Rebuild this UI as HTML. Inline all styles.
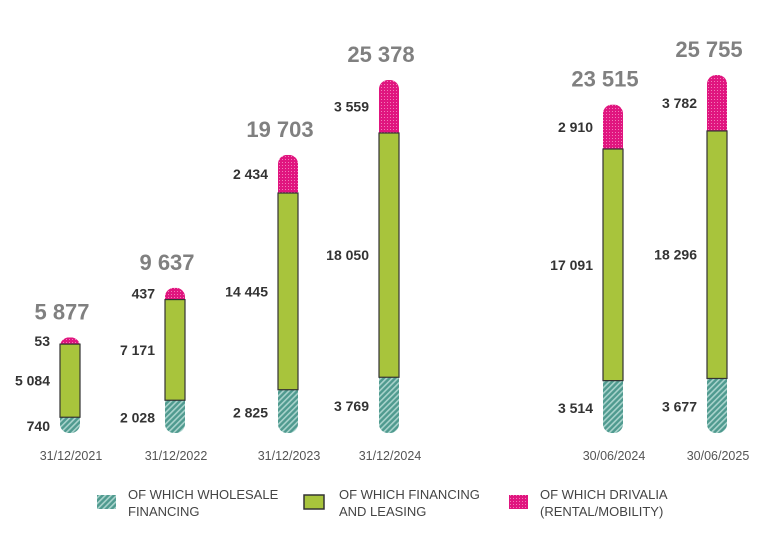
<!DOCTYPE html>
<html><head><meta charset="utf-8"><style>
body{margin:0;background:#fff;font-family:"Liberation Sans",sans-serif}
svg text{font-family:"Liberation Sans",sans-serif}
</style></head><body>
<svg width="778" height="540">
<defs>
<pattern id="hatch" width="4" height="4" patternUnits="userSpaceOnUse" patternTransform="rotate(45)"><rect width="4" height="4" fill="#4f9a8f"/><rect width="1.6" height="4" fill="#a9d3cc"/></pattern>
<pattern id="dots" width="3" height="3" patternUnits="userSpaceOnUse"><rect width="3" height="3" fill="#e0157f"/><rect width="1" height="1" fill="#f27ab8"/></pattern>
</defs>
<g id="chart"></g>
<g font-size="13" fill="#444">
<rect x="97" y="495" width="19" height="14" fill="url(#hatch)"/>
<text x="128" y="499">OF WHICH WHOLESALE</text><text x="128" y="516">FINANCING</text>
<rect x="304" y="495" width="20" height="14" fill="#a8c43c" stroke="#333" stroke-width="1.5"/>
<text x="339" y="499">OF WHICH FINANCING</text><text x="339" y="516">AND LEASING</text>
<rect x="509" y="495" width="19" height="14" fill="url(#dots)"/>
<text x="540" y="499">OF WHICH DRIVALIA</text><text x="540" y="516">(RENTAL/MOBILITY)</text>
</g>
</svg>
<script>
const categories=["31/12/2021","31/12/2022","31/12/2023","31/12/2024","30/06/2024","30/06/2025"];
const wholesale=[740,2028,2825,3769,3514,3677];
const financing=[5084,7171,14445,18050,17091,18296];
const drivalia=[53,437,2434,3559,2910,3782];
const totals=["5 877","9 637","19 703","25 378","23 515","25 755"];
const centers=[70,175,288,389,613,717];
const base=433, k=0.0132, minH=6, bw=20;
const h=v=>minH+v*k;
const fmt=v=>String(v).replace(/\B(?=(\d{3})+(?!\d))/g," ");
const g=document.getElementById('chart');
const NS="http://www.w3.org/2000/svg";
function mk(t,a){const e=document.createElementNS(NS,t);for(const key in a)e.setAttribute(key,a[key]);g.appendChild(e);return e;}
function txt(x,yy,s,a){const e=mk('text',Object.assign({x:x,y:yy},a));e.textContent=s;return e;}
categories.forEach((c,i)=>{
  const cx=centers[i],x0=cx-bw/2;
  const w=wholesale[i],f=financing[i],d=drivalia[i];
  const y1=base-h(w),y2=y1-h(f),y3=y2-h(d);
  const cp=mk('clipPath',{id:'cp'+i});
  const cr=document.createElementNS(NS,'rect');
  cr.setAttribute('x',x0);cr.setAttribute('y',y3);cr.setAttribute('width',bw);cr.setAttribute('height',base-y3);cr.setAttribute('rx',9);
  cp.appendChild(cr);
  const r1=mk('rect',{x:x0,y:y1,width:bw,height:base-y1,fill:'url(#hatch)','clip-path':'url(#cp'+i+')'});
  
  
  const r3=mk('rect',{x:x0,y:y3,width:bw,height:y2-y3,fill:'url(#dots)','clip-path':'url(#cp'+i+')'});
  
  
  const r2=mk('rect',{x:x0,y:y2,width:bw,height:y1-y2,fill:'#a8c43c',stroke:'#333','stroke-width':1.2});
  
  
  const lx=x0-10;
  const a={'text-anchor':'end','font-size':14,'font-weight':'bold',fill:'#333'};
  const t1=txt(lx,Math.min(base-2,(y1+base)/2+6),fmt(w),a);
  
  
  const t2=txt(lx,(y1+y2)/2+5,fmt(f),a);
  
  
  const t3=txt(lx,(y2+y3)/2+5,fmt(d),a);
  
  
  const tt=txt(cx-8,y3-18,totals[i],{'text-anchor':'middle','font-size':22,'font-weight':'bold',fill:'#808080'});
  
  
  const dl=txt(cx+1,460,c,{'text-anchor':'middle','font-size':12.5,fill:'#555'});
  
  
});
</script>
</body></html>
